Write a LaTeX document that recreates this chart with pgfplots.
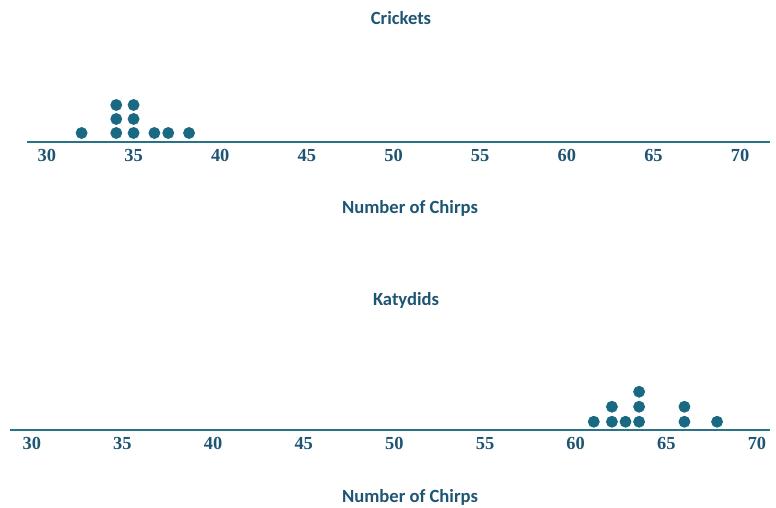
\documentclass[border=0pt]{standalone}
\usepackage{pgfplots}
\pgfplotsset{compat=1.18}
\usepackage{fontspec}
\setmainfont{Carlito}
\newfontfamily\numfont{Liberation Serif}
\definecolor{textblue}{RGB}{30,85,115}
\definecolor{dotcol}{RGB}{25,105,130}
\definecolor{linecol}{RGB}{40,115,135}

\pgfplotsset{
  dotplot/.style={
    axis x line=bottom,
    axis y line=none,
    axis line style={-, linecol, line width=1.2pt},
    enlargelimits=false,
    xtick={30,35,...,70},
    major tick length=0pt,
    ytick=\empty,
    xticklabel style={font=\numfont\bfseries\fontsize{9.2}{10}\selectfont, text=textblue},
    /pgf/number format/assume math mode=true,
    clip=false,
    anchor=south west,
  },
  dots/.style={only marks, mark=*, mark size=2.75pt, mark options={fill=dotcol, draw=dotcol}},
}

\begin{document}
\begin{tikzpicture}
\path[use as bounding box] (0,0) rectangle (388pt,254pt);

% Crickets
\begin{axis}[dotplot,
    at={(13.5pt,183pt)},
    x=8.665pt, y=7pt,
    xmin=28.85, xmax=71.73, ymin=0.357, ymax=3.7]
\addplot[dots] coordinates {
    (32,1)
    (34,1) (34,2) (34,3)
    (35,1) (35,2) (35,3)
    (36.2,1)
    (37,1)
    (38.2,1)
};
\end{axis}

% Katydids
\begin{axis}[dotplot,
    at={(5pt,39pt)},
    x=9.065pt, y=7.5pt,
    xmin=28.8, xmax=70.72, ymin=0.45, ymax=3.5]
\addplot[dots] coordinates {
    (61,1)
    (62,1) (62,2)
    (62.75,1)
    (63.5,1) (63.5,2) (63.5,3)
    (66,1) (66,2)
    (67.8,1)
};
\end{axis}

\begin{scope}[every node/.style={font=\bfseries\fontsize{9.3}{10}\selectfont, text=textblue}]
\node at (200.5pt,245pt) {Crickets};
\node at (205pt,150pt) {Number of Chirps};
\node at (203pt,104pt) {Katydids};
\node at (205pt,5.5pt) {Number of Chirps};
\end{scope}
\end{tikzpicture}
\end{document}
